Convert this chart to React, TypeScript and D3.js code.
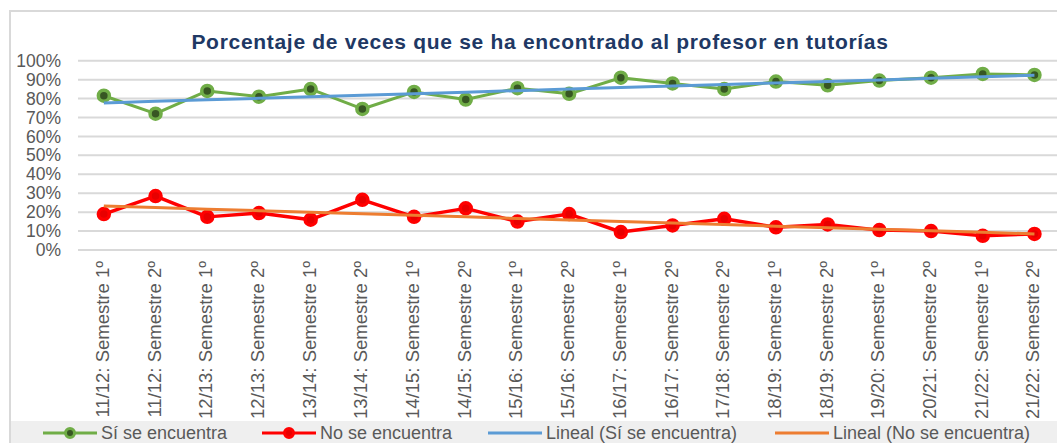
import React, { useRef, useEffect } from 'react';
import * as d3 from 'd3';

const categories = [
    '11/12: Semestre 1º', '11/12: Semestre 2º',
    '12/13: Semestre 1º', '12/13: Semestre 2º',
    '13/14: Semestre 1º', '13/14: Semestre 2º',
    '14/15: Semestre 1º', '14/15: Semestre 2º',
    '15/16: Semestre 1º', '15/16: Semestre 2º',
    '16/17: Semestre 1º', '16/17: Semestre 2º',
    '17/18: Semestre 2º',
    '18/19: Semestre 1º', '18/19: Semestre 2º',
    '19/20: Semestre 1º',
    '20/21: Semestre 2º',
    '21/22: Semestre 1º', '21/22: Semestre 2º'
];

const siValues = [81.5, 72, 84, 81, 85, 74.5, 83.5, 79.5, 85.5, 82.5, 91, 88, 85, 89, 87, 89.5, 91, 93, 92.5];
const noValues = [19, 28.5, 17.5, 19.5, 16, 26.5, 17.5, 22, 15, 19, 9.5, 13, 16.5, 12, 13.5, 10.5, 10, 7.5, 8.5];

const yTicks = [0, 10, 20, 30, 40, 50, 60, 70, 80, 90, 100];

const legendNames = ['Sí se encuentra', 'No se encuentra', 'Lineal (Sí se encuentra)', 'Lineal (No se encuentra)'];

const titleText = 'Porcentaje de veces que se ha encontrado al profesor en tutorías';

const FONT = '"Liberation Sans", Arial, sans-serif';

// least squares fit over the category index, like Excel's linear trendline
const linearFit = (values: number[]) => {
    const xs = values.map((_, i) => i + 1);
    const mx = d3.mean(xs) as number;
    const my = d3.mean(values) as number;
    let num = 0;
    let den = 0;
    xs.forEach((x, i) => {
        num += (x - mx) * (values[i] - my);
        den += (x - mx) * (x - mx);
    });
    const slope = num / den;
    const intercept = my - slope * mx;
    return values.map((_, i) => intercept + slope * (i + 1));
};

const App = () => {
    const svgRef = useRef<SVGSVGElement>(null);

    const totalWidth = 1057;
    const totalHeight = 443;

    useEffect(() => {
        const svg = d3.select(svgRef.current);
        svg.selectAll('*').remove();

        // frame
        svg.append('rect')
            .attr('x', 10)
            .attr('y', 11)
            .attr('width', 1100)
            .attr('height', 500)
            .attr('fill', 'white')
            .attr('stroke', '#D9D9D9')
            .attr('stroke-width', 2);

        const xScale = d3.scaleBand()
            .domain(categories)
            .range([78, 78 + categories.length * 51.7]);

        const cx = (c: string) => (xScale(c) as number) + xScale.bandwidth() / 2;

        const yScale = d3.scaleLinear()
            .domain([0, 100])
            .range([250, 60.7]);

        // gridlines
        svg.append('g')
            .selectAll('line')
            .data(yTicks)
            .enter()
            .append('line')
            .attr('x1', 78)
            .attr('x2', 1070)
            .attr('y1', d => yScale(d))
            .attr('y2', d => yScale(d))
            .attr('stroke', '#D9D9D9')
            .attr('stroke-width', 2);

        // y labels
        svg.append('g')
            .selectAll('text')
            .data(yTicks)
            .enter()
            .append('text')
            .attr('x', 61)
            .attr('y', d => yScale(d))
            .attr('dy', '0.35em')
            .attr('text-anchor', 'end')
            .style('font-family', FONT)
            .style('font-size', '17.5px')
            .style('fill', '#595959')
            .text(d => `${d}%`);

        // x labels (rotated)
        svg.append('g')
            .selectAll('text')
            .data(categories)
            .enter()
            .append('text')
            .attr('transform', d => `translate(${cx(d) + 5}, 261) rotate(-90)`)
            .attr('text-anchor', 'end')
            .style('font-family', FONT)
            .style('font-size', '18.5px')
            .style('fill', '#595959')
            .text(d => d);

        // title
        svg.append('text')
            .attr('x', 540)
            .attr('y', 49)
            .attr('text-anchor', 'middle')
            .style('font-family', FONT)
            .style('font-size', '21px')
            .style('letter-spacing', '0.7px')
            .style('font-weight', 'bold')
            .style('fill', '#203864')
            .text(titleText);

        const line = d3.line<number>()
            .x((_, i) => cx(categories[i]))
            .y(d => yScale(d));

        // series
        svg.append('path')
            .datum(siValues)
            .attr('d', line)
            .attr('fill', 'none')
            .attr('stroke', '#70AD47')
            .attr('stroke-width', 3)
            .attr('stroke-linejoin', 'round');

        svg.append('g')
            .selectAll('circle')
            .data(siValues)
            .enter()
            .append('circle')
            .attr('cx', (_, i) => cx(categories[i]))
            .attr('cy', d => yScale(d))
            .attr('r', 5.5)
            .attr('fill', '#375623')
            .attr('stroke', '#70AD47')
            .attr('stroke-width', 3.5);

        svg.append('path')
            .datum(noValues)
            .attr('d', line)
            .attr('fill', 'none')
            .attr('stroke', '#FF0000')
            .attr('stroke-width', 3.5)
            .attr('stroke-linejoin', 'round');

        svg.append('g')
            .selectAll('circle')
            .data(noValues)
            .enter()
            .append('circle')
            .attr('cx', (_, i) => cx(categories[i]))
            .attr('cy', d => yScale(d))
            .attr('r', 5.5)
            .attr('fill', '#E80000')
            .attr('stroke', '#FF0000')
            .attr('stroke-width', 3.5);

        // trendlines
        svg.append('path')
            .datum(linearFit(siValues))
            .attr('d', line)
            .attr('fill', 'none')
            .attr('stroke', '#5B9BD5')
            .attr('stroke-width', 3);

        svg.append('path')
            .datum(linearFit(noValues))
            .attr('d', line)
            .attr('fill', 'none')
            .attr('stroke', '#ED7D31')
            .attr('stroke-width', 3);

        // legend
        svg.append('rect')
            .attr('x', 11)
            .attr('y', 421)
            .attr('width', 1100)
            .attr('height', 30)
            .attr('fill', '#EFEFEF');

        const legendX = [43, 262, 488, 775];
        const legendColors = ['#70AD47', '#FF0000', '#5B9BD5', '#ED7D31'];
        const legendMarkerFill = ['#375623', '#E80000', null, null];

        const legendItem = svg.append('g')
            .selectAll('g')
            .data(legendNames)
            .enter()
            .append('g')
            .attr('transform', (_, i) => `translate(${legendX[i]}, 433)`);

        legendItem.append('line')
            .attr('x1', 0)
            .attr('x2', 54)
            .attr('stroke', (_, i) => legendColors[i])
            .attr('stroke-width', 3);

        legendItem.filter((_, i) => legendMarkerFill[i] !== null)
            .append('circle')
            .attr('cx', 27)
            .attr('r', 4.5)
            .attr('fill', (_, i) => legendMarkerFill[i] as string)
            .attr('stroke', (_, i) => legendColors[i])
            .attr('stroke-width', 3);

        legendItem.append('text')
            .attr('x', 58)
            .attr('dy', '0.35em')
            .style('font-family', FONT)
            .style('font-size', '18px')
            .style('fill', '#595959')
            .text(d => d);
    }, []);

    return (
        <svg
            ref={svgRef}
            width={totalWidth}
            height={totalHeight}
            style={{ position: 'absolute', left: 0, top: 0, display: 'block', background: 'white' }}
        ></svg>
    );
};

export default App;
